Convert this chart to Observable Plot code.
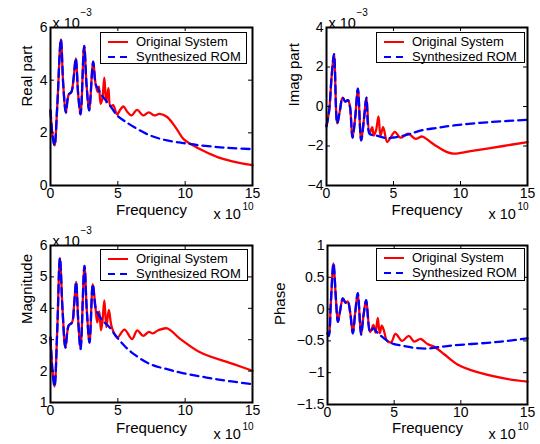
<!DOCTYPE html>
<html><head><meta charset="utf-8">
<script src="https://cdn.jsdelivr.net/npm/d3@7"></script>
<script src="https://cdn.jsdelivr.net/npm/@observablehq/plot@0.6"></script>
<style>
body{margin:0;background:#fff;}
#fig{position:relative;width:540px;height:444px;overflow:hidden;background:#fff;font-family:"Liberation Sans",Arial,Helvetica,sans-serif;}
.panel{position:absolute;}
.legend{position:absolute;box-sizing:border-box;border:1px solid #000;background:#fff;padding:1px 0 0 7px;font-size:13px;color:#000;}
.row{display:flex;align-items:center;height:15px;white-space:nowrap;}
.row svg{margin-right:8px;}
</style></head>
<body><div id="fig"></div>
<script>
// ---------- data (values as read; y in units shown on each axis) ----------
const xTicks = [0, 5, 10, 15];
const legendLabels = ["Original System", "Synthesized ROM"];

// Real part (x 1e-3)
const realEarlyF = [0, 0.15, 0.3, 0.5, 0.77, 0.95, 1.14, 1.35, 1.55, 1.7, 1.88, 2.05, 2.23, 2.5, 2.68, 2.87, 3.17, 3.35];
const realEarlyV = [2.85, 1.9, 1.52, 3.0, 5.55, 3.8, 2.77, 3.45, 3.55, 4.0, 4.83, 3.5, 2.7, 5.3, 3.8, 2.85, 4.7, 3.85];
const realOrigF = [3.5, 3.6, 3.72, 3.85, 4.0, 4.13, 4.3, 4.45, 4.65, 4.95, 5.2, 5.42, 5.7, 6.0, 6.43, 6.88, 7.3, 7.7, 8.1, 8.66, 9.3, 9.9, 10.5, 11.5, 12.4, 13.5, 15];
const realOrigV = [3.55, 3.75, 3.1, 3.3, 4.1, 3.15, 3.7, 3.0, 3.05, 2.7, 2.9, 3.0, 2.8, 2.66, 2.87, 2.66, 2.78, 2.66, 2.72, 2.6, 2.2, 1.75, 1.55, 1.28, 1.08, 0.92, 0.77];
const realRomF = [3.5, 3.7, 4.0, 4.33, 4.95, 5.5, 6.2, 7.4, 8.66, 9.9, 11.0, 12.4, 13.5, 15];
const realRomV = [3.7, 3.5, 3.3, 3.1, 2.66, 2.45, 2.22, 1.9, 1.71, 1.61, 1.53, 1.46, 1.42, 1.38];
const realTicks = [0, 2, 4, 6];

// Imag part (x 1e-3)
const imagEarlyF = [0, 0.2, 0.38, 0.56, 0.8, 1.0, 1.2, 1.4, 1.6, 1.75, 1.94, 2.15, 2.34, 2.59, 2.8, 2.98, 3.21];
const imagEarlyV = [-1.0, -0.2, 1.5, 2.65, -0.85, -0.2, 0.45, 0.25, 0.32, 0.0, -1.58, -0.5, 0.9, -1.72, -0.6, 0.45, -1.38];
const imagOrigF = [3.41, 3.53, 3.7, 3.88, 4.03, 4.23, 4.53, 4.8, 5.1, 5.52, 6.1, 6.64, 7.14, 7.76, 8.26, 9.0, 9.5, 10.75, 13.2, 15];
const imagOrigV = [-1.05, -1.47, -1.2, -0.5, -1.47, -1.05, -1.8, -1.55, -1.28, -1.58, -1.38, -1.64, -1.52, -1.8, -2.03, -2.31, -2.39, -2.26, -2.0, -1.8];
const imagRomF = [3.45, 3.7, 4.0, 4.5, 5.0, 5.77, 6.3, 7.0, 8.26, 9.5, 12.0, 15];
const imagRomV = [-1.45, -1.47, -1.52, -1.6, -1.57, -1.47, -1.38, -1.22, -1.08, -0.96, -0.8, -0.67];
const imagTicks = [-4, -2, 0, 2, 4];

// Magnitude (x 1e-3)
const magEarlyF = [0, 0.15, 0.3, 0.5, 0.7, 0.9, 1.11, 1.35, 1.6, 1.75, 1.9, 2.06, 2.23, 2.52, 2.7, 2.9, 3.14, 3.34];
const magEarlyV = [3.07, 2.0, 1.51, 3.3, 5.6, 3.9, 2.75, 3.45, 3.55, 4.1, 4.84, 3.6, 2.7, 5.35, 3.9, 2.91, 4.77, 4.03];
const magOrigF = [3.47, 3.62, 3.75, 3.86, 4.0, 4.15, 4.33, 4.55, 4.95, 5.49, 6.06, 6.44, 6.88, 7.3, 7.6, 8.0, 8.66, 9.65, 11.14, 13.6, 15];
const magOrigV = [3.55, 3.9, 3.3, 3.6, 4.25, 3.4, 3.95, 3.4, 3.07, 3.32, 3.02, 3.3, 3.12, 3.25, 3.2, 3.3, 3.36, 3.02, 2.59, 2.22, 2.01];
const magRomF = [3.5, 3.71, 4.0, 4.33, 4.95, 5.5, 6.19, 7.42, 8.66, 9.9, 12.37, 15];
const magRomV = [3.85, 3.7, 3.55, 3.42, 3.07, 2.8, 2.54, 2.22, 2.06, 1.93, 1.74, 1.58];
const magTicks = [1, 2, 3, 4, 5, 6];

// Phase
const phaseEarlyF = [0, 0.1, 0.25, 0.45, 0.62, 0.78, 0.95, 1.15, 1.35, 1.52, 1.7, 1.9, 2.08, 2.27, 2.52, 2.7, 2.9, 3.2];
const phaseEarlyV = [-0.38, -0.42, 0.1, 0.72, 0.2, -0.2, -0.02, 0.17, 0.1, 0.12, -0.05, -0.38, -0.05, 0.25, -0.4, -0.1, 0.14, -0.36];
const phaseOrigF = [3.45, 3.6, 3.77, 3.92, 4.07, 4.22, 4.47, 4.78, 5.1, 5.6, 6.1, 6.5, 7.0, 7.5, 8.0, 8.75, 9.75, 10.75, 13.25, 15];
const phaseOrigV = [-0.25, -0.37, -0.14, -0.38, -0.26, -0.33, -0.5, -0.52, -0.39, -0.5, -0.42, -0.51, -0.47, -0.55, -0.59, -0.71, -0.87, -0.96, -1.09, -1.14];
const phaseRomF = [3.45, 3.7, 4.0, 4.5, 5.0, 5.75, 6.5, 7.5, 8.25, 9.5, 12, 13.5, 15];
const phaseRomV = [-0.3, -0.36, -0.42, -0.5, -0.55, -0.58, -0.61, -0.62, -0.6, -0.57, -0.53, -0.5, -0.46];
const phaseTicks = [-1.5, -1, -0.5, 0, 0.5, 1];

// ---------- drawing ----------
const FONT = '"Liberation Sans", Arial, Helvetica, sans-serif';
const W = 270, H = 222;
const fig = document.getElementById("fig");
const fmt = d => (d < 0 ? "\u2212" : "") + Math.abs(d);
const pts = (F, V) => F.map((f, i) => ({f, v: V[i]}));

function panel(c) {
  const fw = W - c.ml - c.mr, fh = H - c.mt - c.mb;
  const early = pts(c.earlyF, c.earlyV);
  const orig = early.concat(pts(c.origF, c.origV));
  const rom = early.concat(pts(c.romF, c.romV));
  const inner = xTicks.slice(1, -1);
  const yInner = c.yTicks.slice(1, -1);
  const marks = [
    Plot.line(orig, {x: "f", y: "v", stroke: "#ff0000", strokeWidth: 2.3, curve: "catmull-rom"}),
    Plot.line(rom, {x: "f", y: "v", stroke: "#0000ff", strokeWidth: 2.3, strokeDasharray: "8,5", curve: "catmull-rom"}),
    Plot.ruleX(inner, {x: d => d, insetTop: fh - 4, stroke: "#000", strokeWidth: 1}),
    Plot.ruleX(inner, {x: d => d, insetBottom: fh - 4, stroke: "#000", strokeWidth: 1}),
    Plot.ruleY(yInner, {y: d => d, insetLeft: fw - 4, stroke: "#000", strokeWidth: 1}),
    Plot.ruleY(yInner, {y: d => d, insetRight: fw - 4, stroke: "#000", strokeWidth: 1}),
    Plot.frame({stroke: "#000", strokeWidth: 2}),
    Plot.axisX(xTicks, {tickSize: 0, tickPadding: 3, label: null, fontSize: 14}),
    Plot.axisY(c.yTicks, {tickSize: 0, tickPadding: 3, label: null, tickFormat: fmt, fontSize: 14}),
    Plot.text([c.yLabel], {frameAnchor: "left", rotate: -90, dx: c.ylDx, text: d => d, fontSize: 15}),
    Plot.text(["Frequency"], {frameAnchor: "bottom", dy: c.xlDy, text: d => d, fontSize: 15}),
    Plot.text(["x 10"], {frameAnchor: "bottom-right", textAnchor: "start", dx: -39, dy: c.eDy, text: d => d, fontSize: 14.5}),
    Plot.text(["10"], {frameAnchor: "bottom-right", textAnchor: "start", dx: -10, dy: c.eDy - 9, text: d => d, fontSize: 10})
  ];
  if (c.milli) {
    marks.push(
      Plot.text(["x 10"], {frameAnchor: "top-left", textAnchor: "start", dx: 2, dy: -10, text: d => d, fontSize: 14.5}),
      Plot.text(["\u22123"], {frameAnchor: "top-left", textAnchor: "start", dx: 30, dy: -19, text: d => d, fontSize: 10})
    );
  }
  const svg = Plot.plot({
    width: W, height: H,
    marginLeft: c.ml, marginRight: c.mr, marginTop: c.mt, marginBottom: c.mb,
    x: {domain: [0, 15]},
    y: {domain: [c.yTicks[0], c.yTicks[c.yTicks.length - 1]]},
    style: {fontFamily: FONT, fontSize: "14px", color: "#000", background: "transparent", overflow: "visible"},
    marks
  });
  svg.classList.add("panel");
  svg.style.left = c.left + "px";
  svg.style.top = c.top + "px";
  fig.appendChild(svg);
}

panel({left: 0, top: 0, ml: 50, mr: 18, mt: 27, mb: 37, yTicks: realTicks, yLabel: "Real part", ylDx: -23, xlDy: 29, eDy: 33, milli: true,
  earlyF: realEarlyF, earlyV: realEarlyV, origF: realOrigF, origV: realOrigV, romF: realRomF, romV: realRomV});
panel({left: 270, top: 0, ml: 56, mr: 13, mt: 27, mb: 37, yTicks: imagTicks, yLabel: "Imag part", ylDx: -32, xlDy: 29, eDy: 33, milli: true,
  earlyF: imagEarlyF, earlyV: imagEarlyV, origF: imagOrigF, origV: imagOrigV, romF: imagRomF, romV: imagRomV});
panel({left: 0, top: 222, ml: 50, mr: 18, mt: 23, mb: 42, yTicks: magTicks, yLabel: "Magnitude", ylDx: -23, xlDy: 30, eDy: 36, milli: true,
  earlyF: magEarlyF, earlyV: magEarlyV, origF: magOrigF, origV: magOrigV, romF: magRomF, romV: magRomV});
panel({left: 270, top: 222, ml: 57, mr: 13, mt: 23, mb: 40, yTicks: phaseTicks, yLabel: "Phase", ylDx: -47, xlDy: 28, eDy: 34, milli: false,
  earlyF: phaseEarlyF, earlyV: phaseEarlyV, origF: phaseOrigF, origV: phaseOrigV, romF: phaseRomF, romV: phaseRomV});

// legends
const legendBoxes = [[100, 32, 147, 32], [376, 32, 149, 31], [100, 249, 148, 32], [376, 248, 149, 33]];
for (const [l, t, w, h] of legendBoxes) {
  const d = document.createElement("div");
  d.className = "legend";
  Object.assign(d.style, {left: l + "px", top: t + "px", width: w + "px", height: h + "px"});
  d.innerHTML =
    `<div class="row"><svg width="20" height="4"><line x1="0" y1="2" x2="20" y2="2" stroke="#ff0000" stroke-width="2"/></svg><span>${legendLabels[0]}</span></div>` +
    `<div class="row"><svg width="20" height="4"><line x1="0" y1="2" x2="20" y2="2" stroke="#0000ff" stroke-width="2" stroke-dasharray="7,5"/></svg><span>${legendLabels[1]}</span></div>`;
  fig.appendChild(d);
}
</script>
</body></html>
